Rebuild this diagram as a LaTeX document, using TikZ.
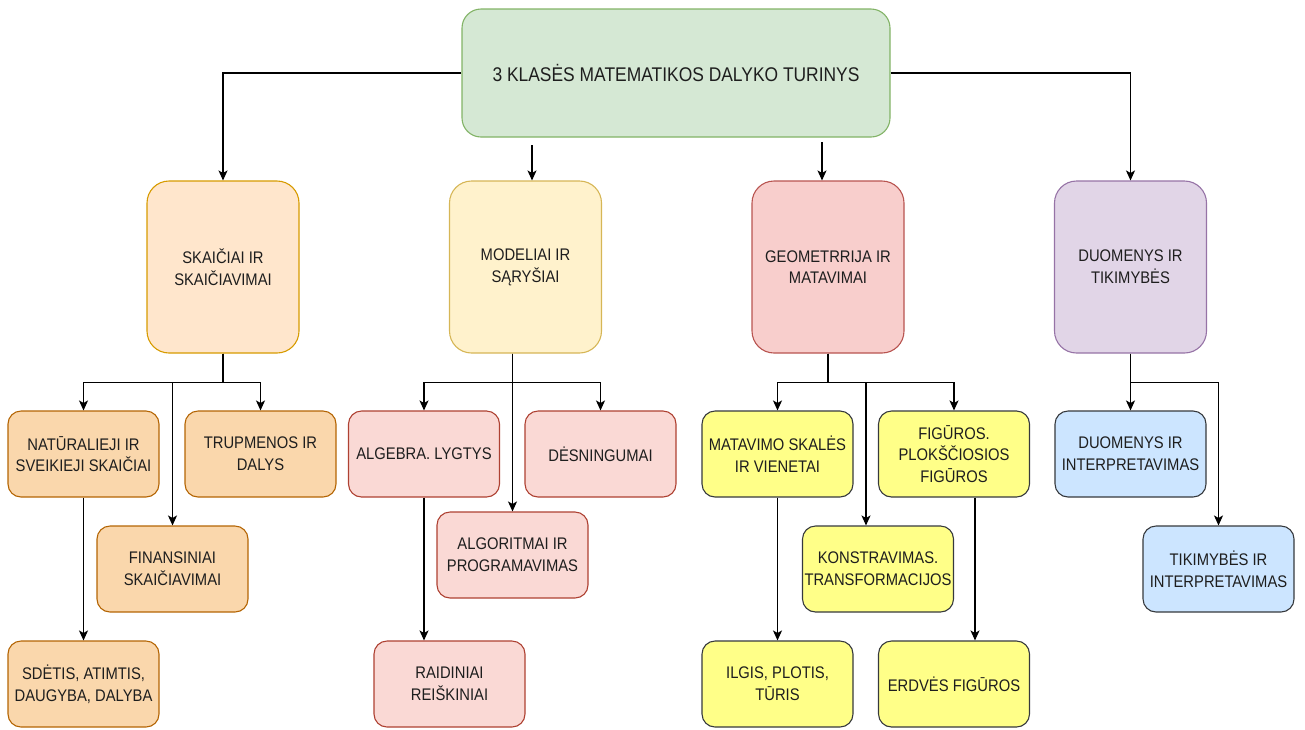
\documentclass[tikz,border=0pt]{standalone}
\usepackage{fontspec}
\setmainfont{Liberation Sans}[FakeStretch=0.88]
\usetikzlibrary{arrows.meta}

\definecolor{txt}{HTML}{1E1E1E}
\definecolor{topfill}{HTML}{D5E8D4}\definecolor{topline}{HTML}{82B366}
\definecolor{skafill}{HTML}{FFE6CC}\definecolor{skaline}{HTML}{D79B00}
\definecolor{modfill}{HTML}{FFF2CC}\definecolor{modline}{HTML}{D6B656}
\definecolor{geofill}{HTML}{F8CECC}\definecolor{geoline}{HTML}{B85450}
\definecolor{duofill}{HTML}{E1D5E7}\definecolor{duoline}{HTML}{9673A6}
\definecolor{orfill}{HTML}{FAD7AC}\definecolor{orline}{HTML}{B46504}
\definecolor{pkfill}{HTML}{FAD9D5}\definecolor{pkline}{HTML}{AE4132}
\definecolor{yefill}{HTML}{FFFF88}\definecolor{grline}{HTML}{36393D}
\definecolor{blfill}{HTML}{CCE5FF}

\begin{document}
\begin{tikzpicture}[x=1pt,y=-1pt,
  box/.style={draw, line width=1.1pt, align=center, inner sep=0pt, text=txt,
    font=\fontsize{16.8}{21.7}\selectfont},
  mainbox/.style={box, minimum width=428pt, minimum height=128pt, rounded corners=19pt,
    fill=topfill, draw=topline, font=\fontsize{19.8}{23}\selectfont},
  catbox/.style={box, minimum width=152pt, minimum height=172pt, rounded corners=22pt},
  subbox/.style={box, minimum width=151pt, minimum height=86pt, rounded corners=13pt},
  orbox/.style={subbox, fill=orfill, draw=orline},
  pkbox/.style={subbox, fill=pkfill, draw=pkline},
  yebox/.style={subbox, fill=yefill, draw=grline},
  blbox/.style={subbox, fill=blfill, draw=grline},
  arr/.style={draw=black, line width=1.2pt, -{Stealth[length=10pt,width=9pt,inset=2.5pt]}}
]
\useasboundingbox (0,0) rectangle (1305,729);

% root
\node[mainbox] (top) at (676,73) {3 KLASĖS MATEMATIKOS DALYKO TURINYS};

% four subject areas
\node[catbox, fill=skafill, draw=skaline] (ska) at (223,267) {SKAIČIAI IR\\SKAIČIAVIMAI};
\node[catbox, fill=modfill, draw=modline] (mod) at (525.5,267) {MODELIAI IR\\SĄRYŠIAI};
\node[catbox, fill=geofill, draw=geoline] (geo) at (828,267) {GEOMETRRIJA IR\\MATAVIMAI};
\node[catbox, fill=duofill, draw=duoline] (duo) at (1130.5,267) {DUOMENYS IR\\TIKIMYBĖS};

% numbers
\node[orbox] (nat) at (83.5,454) {NATŪRALIEJI IR\\SVEIKIEJI SKAIČIAI};
\node[orbox] (tru) at (260.5,454) {TRUPMENOS IR\\DALYS};
\node[orbox] (fin) at (172.5,569) {FINANSINIAI\\SKAIČIAVIMAI};
\node[orbox] (sde) at (83.5,684) {SDĖTIS, ATIMTIS,\\DAUGYBA, DALYBA};

% models and relations
\node[pkbox] (alb) at (424,454) {ALGEBRA. LYGTYS};
\node[pkbox] (des) at (600.5,454) {DĖSNINGUMAI};
\node[pkbox] (alg) at (512.5,555) {ALGORITMAI IR\\PROGRAMAVIMAS};
\node[pkbox] (rai) at (449.5,684) {RAIDINIAI\\REIŠKINIAI};

% geometry and measurement
\node[yebox] (mat) at (777.5,454) {MATAVIMO SKALĖS\\IR VIENETAI};
\node[yebox] (fig) at (954,454) {FIGŪROS.\\PLOKŠČIOSIOS\\FIGŪROS};
\node[yebox] (kon) at (878,569) {KONSTRAVIMAS.\\TRANSFORMACIJOS};
\node[yebox] (ilg) at (777.5,684) {ILGIS, PLOTIS,\\TŪRIS};
\node[yebox] (erd) at (954,684) {ERDVĖS FIGŪROS};

% data and probability
\node[blbox] (dui) at (1130.5,454) {DUOMENYS IR\\INTERPRETAVIMAS};
\node[blbox] (tik) at (1218.5,569) {TIKIMYBĖS IR\\INTERPRETAVIMAS};

% root connectors
\draw[arr] (top.west) -| (ska.north);
\draw[arr] (top.east) -| (duo.north);
\coordinate (t1) at (532,145);
\coordinate (t2) at (822,142);
\draw[arr] (t1) -- (t1 |- mod.north);
\draw[arr] (t2) -- (t2 |- geo.north);

% numbers branch
\draw[arr] (ska.south) -- ++(0,29) -| (nat.north);
\draw[arr] (ska.south) -- ++(0,29) -| (tru.north);
\draw[arr] (ska.south) -- ++(0,29) -| (fin.north);
\draw[arr] (nat.south) -- (sde.north);

% models branch
\draw[arr] (alg.north |- mod.south) -- (alg.north);
\draw[arr] (alg.north |- mod.south) -- ++(0,29) -| (alb.north);
\draw[arr] (alg.north |- mod.south) -- ++(0,29) -| (des.north);
\draw[arr] (alb.south) -- (alb.south |- rai.north);

% geometry branch
\draw[arr] (geo.south) -- ++(0,29) -| (mat.north);
\draw[arr] (geo.south) -- ++(0,29) -| (fig.north);
\draw[arr] (geo.south) -- ++(0,29) -| ([xshift=-12pt]kon.north);
\draw[arr] (mat.south) -- (ilg.north);
\draw[arr] ([xshift=21pt]fig.south) -- ([xshift=21pt]erd.north);

% data branch
\draw[arr] (duo.south) -- (dui.north);
\draw[arr] (duo.south) -- ++(0,29) -| (tik.north);
\end{tikzpicture}
\end{document}
